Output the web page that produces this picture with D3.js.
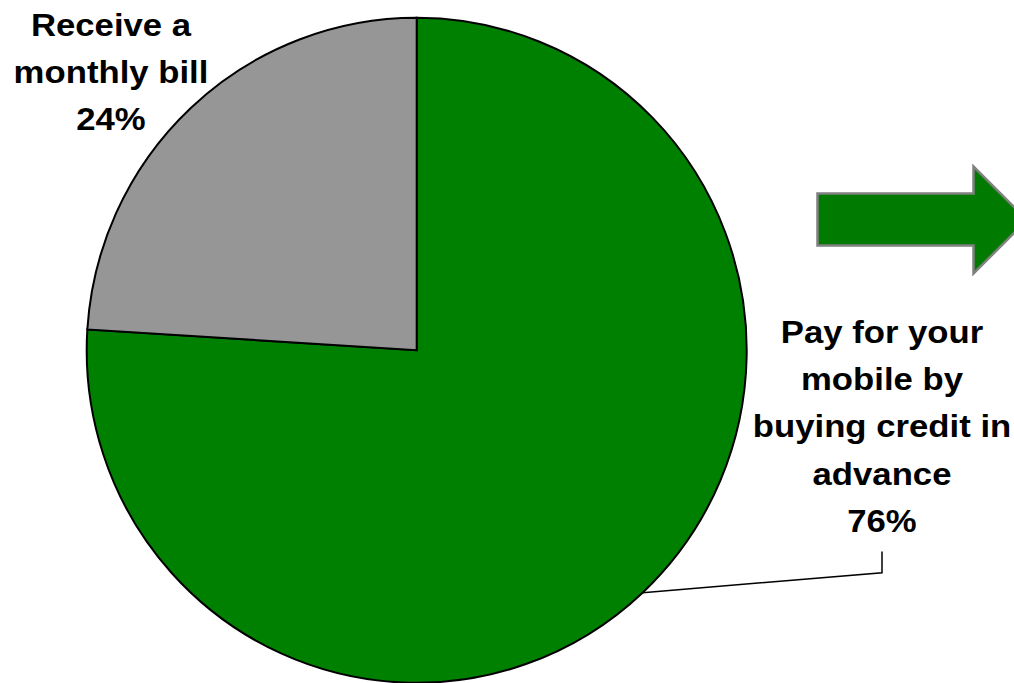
<!DOCTYPE html>
<html>
<head>
<meta charset="utf-8">
<script src="https://cdn.jsdelivr.net/npm/d3@7"></script>
<style>
  html, body { margin: 0; padding: 0; background: #ffffff; }
  svg { display: block; }
  text { font-family: "Liberation Sans", Arial, sans-serif; font-weight: bold; fill: #000; }
</style>
</head>
<body>
<svg id="chart" width="1014" height="683"></svg>
<script>
// Payment method split for mobile phones
const categories = ["Pay for your mobile by buying credit in advance", "Receive a monthly bill"];
const values = [76, 24];
const colors = ["#008000", "#969696"];
const labelLines = [
  ["Pay for your", "mobile by", "buying credit in", "advance"],
  ["Receive a", "monthly bill"]
];

const W = 1014, H = 683;
const cx = 416.7, cy = 350.3;
const Rx = 330, Ry = 332.5;

const svg = d3.select("#chart");

const pie = d3.pie().sort(null).value(d => d)(values);
const arc = d3.arc().innerRadius(0).outerRadius(Rx);

// Pie is drawn slightly taller than wide
const g = svg.append("g")
  .attr("transform", `translate(${cx},${cy}) scale(1,${Ry / Rx})`);

g.selectAll("path.slice")
  .data(pie)
  .join("path")
  .attr("class", "slice")
  .attr("d", arc)
  .attr("fill", (d, i) => colors[i])
  .attr("stroke", "#000")
  .attr("stroke-width", 2)
  .attr("stroke-linejoin", "miter");

// Label blocks (wide bold face)
const fontSize = 31;
const stretch = 1.12;
const lineGap = 47.2;
const labelPos = [
  { x: 882, y: 343 },  // baseline of first line, green slice
  { x: 111, y: 36 }    // baseline of first line, gray slice
];

pie.forEach((d, i) => {
  const lines = labelLines[i].concat([d3.format(".0f")(values[i]) + "%"]);
  const t = svg.append("g")
    .attr("transform", `translate(${labelPos[i].x},0) scale(${stretch},1)`)
    .append("text")
    .attr("text-anchor", "middle")
    .attr("font-size", fontSize);
  lines.forEach((ln, k) => {
    t.append("tspan")
      .attr("x", 0)
      .attr("y", labelPos[i].y + k * lineGap)
      .text(ln);
  });
});

// Leader line from the green slice to its label
{
  const d = pie[0];
  const a = (d.startAngle + d.endAngle) / 2;
  const px = cx + Rx * Math.sin(a), py = cy - Ry * Math.cos(a);
  const lx = 882, ly0 = 551.5, ly1 = 572.7;
  svg.append("path")
    .attr("d", `M${px},${py} L${lx},${ly1} L${lx},${ly0}`)
    .attr("fill", "none")
    .attr("stroke", "#000")
    .attr("stroke-width", 1.5);
}

// Block arrow on the right
svg.append("path")
  .attr("d", "M817.5,193.5 L973.5,193.5 L973.5,166.5 L1027,220 L973.5,273.5 L973.5,245.5 L817.5,245.5 Z")
  .attr("fill", "#007a00")
  .attr("stroke", "#808080")
  .attr("stroke-width", 2.5)
  .attr("stroke-linejoin", "miter");
</script>
</body>
</html>
